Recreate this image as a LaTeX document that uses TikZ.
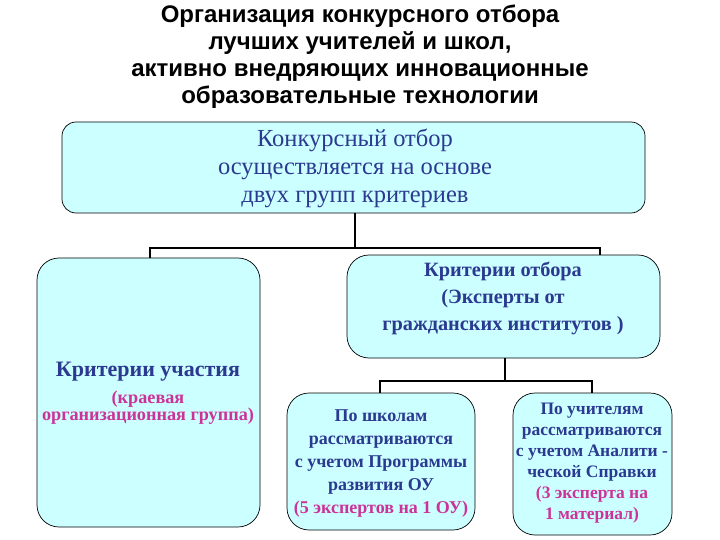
\documentclass[tikz,border=0pt]{standalone}
\usepackage{fontspec}
\setmainfont{Liberation Serif}
\newfontfamily\titlefont{Liberation Sans}
\definecolor{boxfill}{HTML}{CCFFFF}
\definecolor{dblue}{HTML}{2B3990}
\definecolor{mag}{HTML}{CC3399}
\begin{document}
\begin{tikzpicture}[x=1pt,y=-1pt,
  bx/.style={draw=black,fill=boxfill,rounded corners=22pt,line width=0.7pt},
  ln/.style={line width=2pt},
  tx/.style={align=center,font=\bfseries,text=dblue}]
\useasboundingbox (0,0) rectangle (720,540);
\node[align=center,font=\titlefont\bfseries\fontsize{24}{27}\selectfont] (title) at (360,57) {Организация конкурсного отбора\\лучших учителей и школ,\\активно внедряющих инновационные\\образовательные технологии};
\draw[bx,rounded corners=14pt] (62,122) rectangle (645,213);
\node[align=center,text=dblue,font=\fontsize{24.5}{28}\selectfont] (top) at (355,168) {Конкурсный отбор\\осуществляется на основе\\двух групп критериев};
\draw[bx] (37,258) rectangle (260,527);
\node[tx,font=\bfseries\fontsize{22}{24}\selectfont] (left) at (148,372) {Критерии участия};
\node[align=center,font=\bfseries\fontsize{18.2}{17}\selectfont,text=mag] (leftsub) at (148,408) {(краевая\\организационная группа)};
\draw[bx] (347,255) rectangle (660,358);
\node[tx,font=\bfseries\fontsize{20.3}{27}\selectfont] (right) at (503,298) {Критерии отбора\\(Эксперты от\\гражданских институтов )};
\draw[bx] (287,393) rectangle (475,530);
\node[align=center,font=\bfseries\fontsize{18}{23}\selectfont] (sch) at (381,464) {\textcolor{dblue}{По школам}\\\textcolor{dblue}{рассматриваются}\\\textcolor{dblue}{с учетом Программы}\\\textcolor{dblue}{развития ОУ}\\\textcolor{mag}{(5 экспертов на 1 ОУ)}};
\draw[bx] (513,393) rectangle (672,535);
\node[align=center,font=\bfseries\fontsize{17.5}{21}\selectfont] (tea) at (592,463) {\textcolor{dblue}{По учителям}\\\textcolor{dblue}{рассматриваются}\\\textcolor{dblue}{с учетом Аналити -}\\\textcolor{dblue}{ческой Справки}\\\textcolor{mag}{(3 эксперта на}\\\textcolor{mag}{1 материал)}};
\draw[ln] (355,213) -- (355,248);
\draw[ln] (150,258) -- (150,248) -- (600,248) -- (600,255);
\draw[ln] (505,358) -- (505,381);
\draw[ln] (380,393) -- (380,381) -- (592,381) -- (592,393);
\end{tikzpicture}
\end{document}
